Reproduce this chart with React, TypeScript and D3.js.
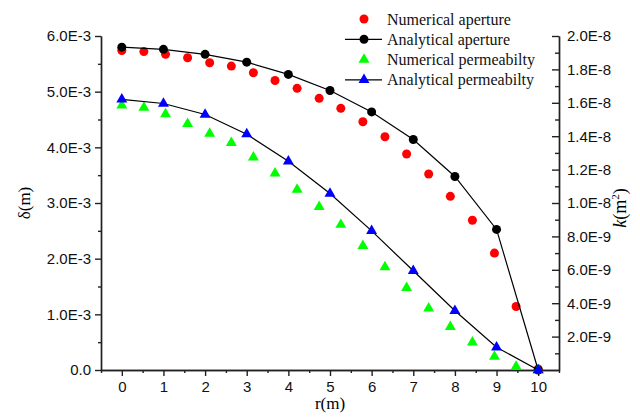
import React, { useEffect, useRef } from "react";
import * as d3 from "d3";

// analytical solution sampled every 1 m
const rAnalytical = [0, 1, 2, 3, 4, 5, 6, 7, 8, 9, 10];
const apertureAnalytical = [5.8e-3, 5.76e-3, 5.67e-3, 5.53e-3, 5.31e-3, 5.02e-3, 4.636e-3, 4.14e-3, 3.477e-3, 2.525e-3, 0];
const permAnalytical = [16.21e-9, 15.96e-9, 15.3e-9, 14.12e-9, 12.5e-9, 10.57e-9, 8.33e-9, 5.94e-9, 3.55e-9, 1.36e-9, 0];

// numerical solution
const rNumerical = [0, 0.53, 1.05, 1.58, 2.11, 2.63, 3.16, 3.68, 4.21, 4.74, 5.26, 5.79, 6.32, 6.84, 7.37, 7.89, 8.42, 8.95, 9.47, 10];
const apertureNumerical = [5.74e-3, 5.72e-3, 5.67e-3, 5.61e-3, 5.52e-3, 5.46e-3, 5.34e-3, 5.2e-3, 5.06e-3, 4.88e-3, 4.7e-3, 4.46e-3, 4.19e-3, 3.88e-3, 3.52e-3, 3.12e-3, 2.69e-3, 2.1e-3, 1.14e-3, 0.02e-3];
const permNumerical = [15.85e-9, 15.72e-9, 15.32e-9, 14.74e-9, 14.16e-9, 13.6e-9, 12.74e-9, 11.77e-9, 10.81e-9, 9.77e-9, 8.7e-9, 7.44e-9, 6.16e-9, 4.92e-9, 3.69e-9, 2.59e-9, 1.66e-9, 0.8e-9, 0.2e-9, 0];

const xTicks = [0, 1, 2, 3, 4, 5, 6, 7, 8, 9, 10];
const leftTicks = [0, 1e-3, 2e-3, 3e-3, 4e-3, 5e-3, 6e-3];
const rightTicks = [2e-9, 4e-9, 6e-9, 8e-9, 10e-9, 12e-9, 14e-9, 16e-9, 18e-9, 20e-9];

const legendItems = [
  { label: "Numerical aperture", color: "#ff0000", shape: "circle", line: false },
  { label: "Analytical aperture", color: "#000000", shape: "circle", line: true },
  { label: "Numerical permeabilty", color: "#00ff00", shape: "triangle", line: false },
  { label: "Analytical permeabilty", color: "#0000ff", shape: "triangle", line: true },
];

const W = 640, H = 419;
const L = 101, R = 559, T = 36, B = 370;

const fmt = (v: number) => (v === 0 ? "0.0" : v.toExponential(1).toUpperCase());

export default function App() {
  const ref = useRef<SVGSVGElement>(null);

  useEffect(() => {
    const svg = d3.select(ref.current);
    svg.selectAll("*").remove();

    const x = d3.scaleLinear().domain([-0.5, 10.5]).range([L, R]);
    const yL = d3.scaleLinear().domain([0, 6e-3]).range([B, T]);
    const yR = d3.scaleLinear().domain([0, 2e-8]).range([B, T]);

    const sans = "'Liberation Sans', Arial, sans-serif";
    const serif = "'Liberation Serif', 'Times New Roman', serif";

    const styleAxis = (g: any) => {
      g.selectAll("path").attr("stroke", "#222").attr("stroke-width", 1.4);
      g.selectAll("line").attr("stroke", "#222").attr("stroke-width", 1.4);
      g.selectAll("text").attr("font-family", sans).attr("font-size", 15).attr("fill", "#111");
    };

    // bottom axis
    const minorX = d3.range(-0.5, 10.51, 0.5).filter(v => !Number.isInteger(v));
    svg.append("g").attr("transform", `translate(0,${B})`)
      .call(d3.axisBottom(x).tickValues(minorX).tickSizeInner(3).tickSizeOuter(0).tickFormat(() => ""))
      .call(styleAxis);
    svg.append("g").attr("transform", `translate(0,${B})`)
      .call(d3.axisBottom(x).tickValues(xTicks).tickSizeInner(6).tickSizeOuter(0).tickPadding(5).tickFormat(d3.format("d")))
      .call(styleAxis);

    // left axis
    const minorL = d3.range(0.5e-3, 6e-3, 1e-3);
    svg.append("g").attr("transform", `translate(${L},0)`)
      .call(d3.axisLeft(yL).tickValues(minorL).tickSizeInner(3).tickSizeOuter(0).tickFormat(() => ""))
      .call(styleAxis);
    svg.append("g").attr("transform", `translate(${L},0)`)
      .call(d3.axisLeft(yL).tickValues(leftTicks).tickSizeInner(6).tickSizeOuter(0).tickPadding(4).tickFormat(fmt as any))
      .call(styleAxis);

    // right axis, ticks inward
    const minorR = d3.range(1e-9, 2e-8, 2e-9);
    svg.append("g").attr("transform", `translate(${R},0)`)
      .call(d3.axisRight(yR).tickValues(minorR).tickSizeInner(-4).tickSizeOuter(0).tickFormat(() => ""))
      .call(styleAxis);
    svg.append("g").attr("transform", `translate(${R},0)`)
      .call(d3.axisRight(yR).tickValues(rightTicks).tickSizeInner(-7).tickSizeOuter(0).tickPadding(8).tickFormat(fmt as any))
      .call(styleAxis);

    // axis titles
    svg.append("text").attr("x", 330).attr("y", 409).attr("text-anchor", "middle")
      .attr("font-family", serif).attr("font-size", 17).text("r(m)");
    svg.append("text").attr("transform", "translate(30,203) rotate(-90)").attr("text-anchor", "middle")
      .attr("font-family", serif).attr("font-size", 17).text("δ(m)");
    const kt = svg.append("text").attr("transform", "translate(626,208) rotate(-90)").attr("text-anchor", "middle")
      .attr("font-family", serif).attr("font-size", 18);
    kt.append("tspan").attr("font-style", "italic").text("k");
    kt.append("tspan").text("(m");
    kt.append("tspan").attr("font-size", 11).attr("dy", -7).text("2");
    kt.append("tspan").attr("dy", 7).text(")");

    const tri = d3.symbol().type(d3.symbolTriangle).size(52);
    const line = d3.line<[number, number]>();

    // numerical aperture
    svg.append("g").selectAll("circle").data(rNumerical).enter().append("circle")
      .attr("cx", d => x(d)).attr("cy", (d, i) => yL(apertureNumerical[i])).attr("r", 4.5).attr("fill", "#ff0000");

    // analytical aperture
    svg.append("path")
      .attr("d", line(rAnalytical.map((r, i) => [x(r), yL(apertureAnalytical[i])] as [number, number])))
      .attr("fill", "none").attr("stroke", "#000").attr("stroke-width", 1.2);
    svg.append("g").selectAll("circle").data(rAnalytical).enter().append("circle")
      .attr("cx", d => x(d)).attr("cy", (d, i) => yL(apertureAnalytical[i])).attr("r", 4.5).attr("fill", "#000");

    // numerical permeability
    svg.append("g").selectAll("path").data(rNumerical).enter().append("path")
      .attr("d", tri).attr("fill", "#00ff00")
      .attr("transform", (d, i) => `translate(${x(d)},${yR(permNumerical[i])})`);

    // analytical permeability
    svg.append("path")
      .attr("d", line(rAnalytical.map((r, i) => [x(r), yR(permAnalytical[i])] as [number, number])))
      .attr("fill", "none").attr("stroke", "#000").attr("stroke-width", 1.2);
    svg.append("g").selectAll("path").data(rAnalytical).enter().append("path")
      .attr("d", tri).attr("fill", "#0000ff")
      .attr("transform", (d, i) => `translate(${x(d)},${yR(permAnalytical[i])})`);

    // legend
    const lg = svg.append("g").attr("transform", "translate(345,19)");
    legendItems.forEach((it, i) => {
      const g = lg.append("g").attr("transform", `translate(0,${i * 20.3})`);
      if (it.line) g.append("line").attr("x1", 0).attr("x2", 37).attr("stroke", "#000").attr("stroke-width", 1.2);
      if (it.shape === "circle") g.append("circle").attr("cx", 19).attr("r", 4.5).attr("fill", it.color);
      else g.append("path").attr("d", tri).attr("fill", it.color).attr("transform", "translate(19,0)");
      g.append("text").attr("x", 42).attr("y", 5.5).attr("font-family", serif).attr("font-size", 16)
        .attr("fill", "#111").text(it.label);
    });
  }, []);

  return (
    <svg ref={ref} width={W} height={H}
      style={{ position: "absolute", left: 0, top: 0, background: "#fff" }} />
  );
}
